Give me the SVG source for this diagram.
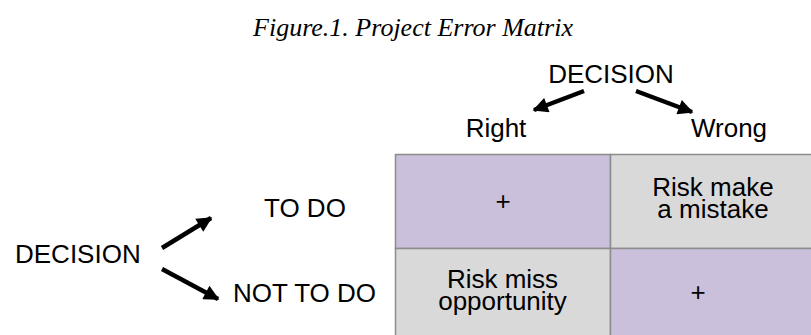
<svg xmlns="http://www.w3.org/2000/svg" width="811" height="335" viewBox="0 0 811 335">
<style>
.t{font-family:"Liberation Sans",Arial,sans-serif;font-size:26px;fill:#000}
.c{text-anchor:middle}
.title{font-family:"Liberation Serif","Times New Roman",serif;font-style:italic;font-size:26px;fill:#000;text-anchor:middle}
.p{fill:#CBC0DB;stroke:#8C8C8C;stroke-width:1.5}
.g{fill:#D9D9D9;stroke:#8C8C8C;stroke-width:1.5}
.a{stroke:#000;stroke-width:4.5;fill:none;marker-end:url(#ah)}
</style>
<defs>
<marker id="ah" viewBox="0 0 10 10" refX="9" refY="5" markerWidth="3.8" markerHeight="3.4" orient="auto" markerUnits="strokeWidth">
<path d="M0,0 L10,5 L0,10 Z" fill="#000"/>
</marker>
</defs>
<rect width="811" height="335" fill="#fff"/>
<text class="title" x="413" y="36">Figure.1. Project Error Matrix</text>
<g id="decision-top"><text class="t c" x="611" y="83">DECISION</text></g>
<g id="right"><text class="t c" x="496" y="137">Right</text></g>
<g id="wrong"><text class="t c" x="729" y="137">Wrong</text></g>
<g id="decision-left"><text class="t" x="15" y="263">DECISION</text></g>
<g id="todo"><text class="t" x="264" y="217">TO DO</text></g>
<g id="nottodo"><text class="t" x="233" y="302">NOT TO DO</text></g>
<g id="cell-tl"><rect class="p" x="395.5" y="154.5" width="215" height="94"/><text class="t c" x="503" y="210">+</text></g>
<g id="cell-tr"><rect class="g" x="610.5" y="154.5" width="210" height="94"/><text class="t c" x="713" y="196">Risk make</text><text class="t c" x="713" y="218">a mistake</text></g>
<g id="cell-bl"><rect class="g" x="395.5" y="248.5" width="215" height="100"/><text class="t c" x="502.5" y="288">Risk miss</text><text class="t c" x="502.5" y="310">opportunity</text></g>
<g id="cell-br"><rect class="p" x="610.5" y="248.5" width="210" height="100"/><text class="t c" x="698" y="301">+</text></g>
<g id="connectors">
<line class="a" x1="584" y1="91" x2="534" y2="110"/>
<line class="a" x1="636" y1="91" x2="692" y2="112"/>
<line class="a" x1="162" y1="248" x2="211" y2="218"/>
<line class="a" x1="162" y1="269" x2="218" y2="299"/>
</g>
</svg>
